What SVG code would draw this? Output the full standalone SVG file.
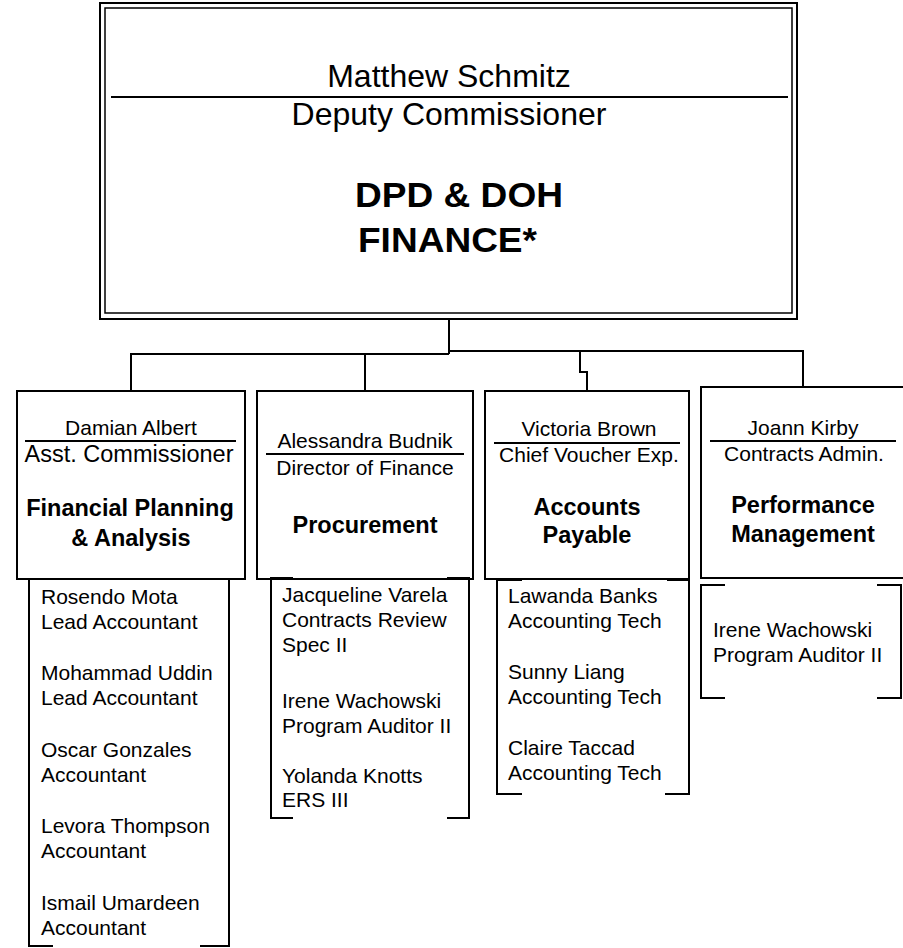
<svg xmlns="http://www.w3.org/2000/svg" width="903" height="948" viewBox="0 0 903 948">
<style>
text{font-family:"Liberation Sans",Arial,sans-serif;fill:#000}
.box{fill:#fff;stroke:#000;stroke-width:2}
.ln{fill:none;stroke:#000;stroke-width:2}
.thin{fill:none;stroke:#000;stroke-width:1.5}
.c{text-anchor:middle}
.big{font-size:32px}
.hd{font-size:35px;font-weight:bold}
.nm{font-size:21px}
.tt{font-size:23.5px}
.bd{font-size:23.5px;font-weight:bold}
.li{font-size:21px}
</style>
<g id="connectors">
<path class="ln" d="M449,319 V354 M131,354 H449 M449,351 H803 M131,353 V391 M365,354 V391 M580,351 V372 H587 V391 M803,350 V387"/>
</g>
<g id="top">
<rect class="ln" x="100" y="3" width="697" height="316"/>
<rect class="thin" x="105" y="8" width="687" height="305"/>
<line class="ln" x1="111" y1="97" x2="788" y2="97"/>
<text class="big c" x="449" y="87">Matthew Schmitz</text>
<text class="big c" x="449" y="125">Deputy Commissioner</text>
<text class="hd" x="355" y="207" textLength="208" lengthAdjust="spacingAndGlyphs">DPD &amp; DOH</text>
<text class="hd" x="358" y="252" textLength="179" lengthAdjust="spacingAndGlyphs">FINANCE*</text>
</g>
<g id="fpa">
<rect class="box" x="17" y="391" width="228" height="188"/>
<text class="nm c" x="131" y="435">Damian Albert</text>
<line class="ln" x1="25" y1="441" x2="236" y2="441"/>
<text class="tt c" x="129" y="462">Asst. Commissioner</text>
<text class="bd c" x="130" y="516">Financial Planning</text>
<text class="bd c" x="131" y="546">&amp; Analysis</text>
</g>
<g id="fpa-list">
<path class="ln" d="M29,579 V946 H53 M229,579 V946 H200"/>
<text class="li" x="41" y="604">Rosendo Mota</text>
<text class="li" x="41" y="629">Lead Accountant</text>
<text class="li" x="41" y="680">Mohammad Uddin</text>
<text class="li" x="41" y="705">Lead Accountant</text>
<text class="li" x="41" y="757">Oscar Gonzales</text>
<text class="li" x="41" y="782">Accountant</text>
<text class="li" x="41" y="833">Levora Thompson</text>
<text class="li" x="41" y="858">Accountant</text>
<text class="li" x="41" y="910">Ismail Umardeen</text>
<text class="li" x="41" y="935">Accountant</text>
</g>
<g id="procurement">
<rect class="box" x="257" y="391" width="216" height="188"/>
<text class="nm c" x="365" y="448">Alessandra Budnik</text>
<line class="ln" x1="266" y1="454" x2="464" y2="454"/>
<text class="nm c" x="365" y="475">Director of Finance</text>
<text class="bd c" x="365" y="533">Procurement</text>
</g>
<g id="procurement-list">
<path class="ln" d="M293,578 H271 V818 H293 M447,578 H469 V818 H447"/>
<text class="li" x="282" y="602">Jacqueline Varela</text>
<text class="li" x="282" y="627">Contracts Review</text>
<text class="li" x="282" y="652">Spec II</text>
<text class="li" x="282" y="708">Irene Wachowski</text>
<text class="li" x="282" y="733">Program Auditor II</text>
<text class="li" x="282" y="783">Yolanda Knotts</text>
<text class="li" x="282" y="807">ERS III</text>
</g>
<g id="ap">
<rect class="box" x="485" y="391" width="204" height="188"/>
<text class="nm c" x="589" y="436">Victoria Brown</text>
<line class="ln" x1="494" y1="443" x2="680" y2="443"/>
<text class="nm c" x="589" y="462">Chief Voucher Exp.</text>
<text class="bd c" x="587" y="515">Accounts</text>
<text class="bd c" x="587" y="543">Payable</text>
</g>
<g id="ap-list">
<path class="ln" d="M522,580 H497 V794 H522 M667,580 H689 V794 H665"/>
<text class="li" x="508" y="603">Lawanda Banks</text>
<text class="li" x="508" y="628">Accounting Tech</text>
<text class="li" x="508" y="679">Sunny Liang</text>
<text class="li" x="508" y="704">Accounting Tech</text>
<text class="li" x="508" y="755">Claire Taccad</text>
<text class="li" x="508" y="780">Accounting Tech</text>
</g>
<g id="pm">
<rect class="box" x="701" y="387" width="210" height="191"/>
<text class="nm c" x="803" y="435">Joann Kirby</text>
<line class="ln" x1="710" y1="441" x2="896" y2="441"/>
<text class="nm c" x="804" y="461">Contracts Admin.</text>
<text class="bd c" x="803" y="513">Performance</text>
<text class="bd c" x="803" y="542">Management</text>
</g>
<g id="pm-list">
<path class="ln" d="M725,585 H701 V698 H725 M877,585 H901 V698 H877"/>
<text class="li" x="713" y="637">Irene Wachowski</text>
<text class="li" x="713" y="662">Program Auditor II</text>
</g>
</svg>
